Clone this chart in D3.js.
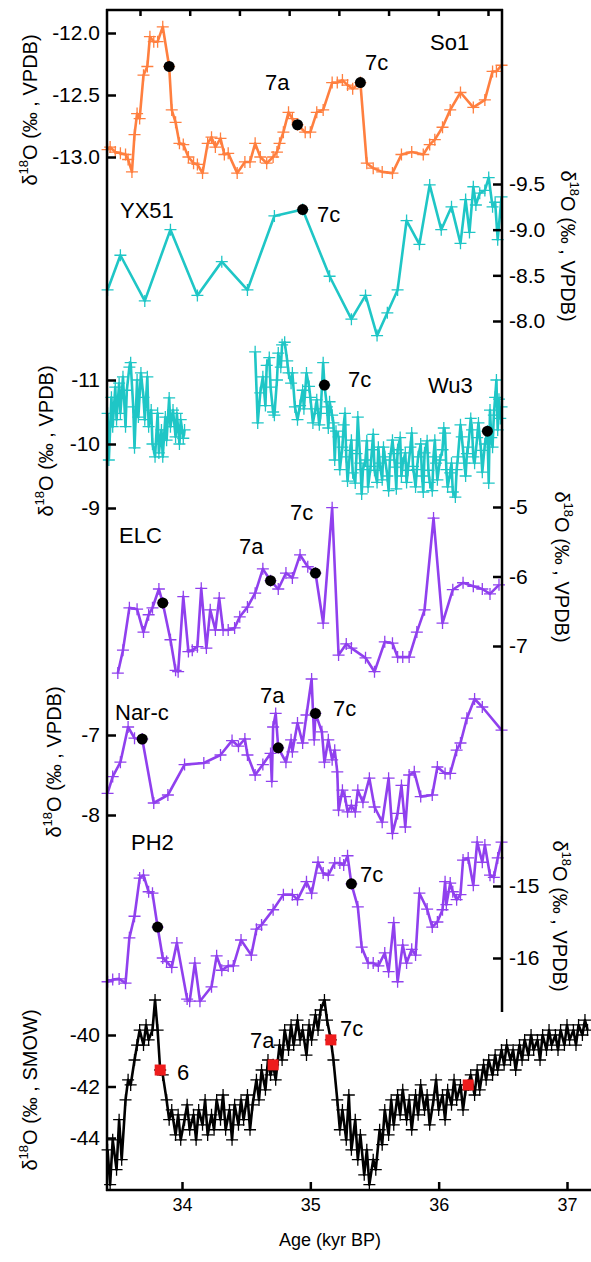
<!DOCTYPE html>
<html><head><meta charset="utf-8">
<script src="https://cdn.jsdelivr.net/npm/d3@7"></script>
<style>body{margin:0;background:#fff} text{font-family:"Liberation Sans",Arial,sans-serif;}</style>
</head><body><svg width="591" height="1262"></svg>
<script>
// [age kyr BP, d18O]
const so1 = [[33.42,-12.94],[33.44,-12.92],[33.48,-12.96],[33.52,-12.97],[33.56,-12.98],[33.58,-13.02],[33.61,-13.12],[33.63,-12.82],[33.65,-12.65],[33.67,-12.69],[33.70,-12.34],[33.73,-12.27],[33.75,-12.03],[33.78,-12.07],[33.81,-12.07],[33.85,-11.95],[33.90,-12.27],[33.92,-12.62],[33.95,-12.72],[33.98,-12.89],[34.01,-12.9],[34.05,-13.0],[34.09,-13.05],[34.12,-13.06],[34.16,-13.13],[34.20,-12.89],[34.23,-12.84],[34.26,-12.92],[34.30,-12.85],[34.33,-12.98],[34.36,-12.97],[34.43,-13.13],[34.49,-13.04],[34.53,-13.04],[34.57,-12.89],[34.61,-13.0],[34.66,-13.05],[34.71,-13.0],[34.74,-12.96],[34.76,-12.89],[34.79,-12.8],[34.83,-12.64],[34.86,-12.69],[34.90,-12.74],[34.96,-12.8],[35.00,-12.8],[35.05,-12.64],[35.10,-12.62],[35.17,-12.4],[35.21,-12.4],[35.25,-12.38],[35.29,-12.42],[35.33,-12.45],[35.39,-12.40],[35.44,-13.05],[35.49,-13.09],[35.56,-13.12],[35.64,-13.13],[35.71,-12.98],[35.79,-12.96],[35.88,-12.98],[35.93,-12.9],[35.97,-12.86],[36.03,-12.76],[36.09,-12.62],[36.17,-12.48],[36.27,-12.6],[36.36,-12.54],[36.42,-12.31],[36.45,-12.31],[36.49,-12.26]];
const so1Dots = [[33.90,-12.27],[34.90,-12.74],[35.39,-12.40]];

const yx51 = [[33.42,-8.34],[33.52,-8.72],[33.71,-8.22],[33.91,-9.0],[34.12,-8.28],[34.31,-8.65],[34.51,-8.34],[34.72,-9.15],[34.94,-9.22],[35.15,-8.49],[35.32,-8.02],[35.43,-8.28],[35.52,-7.84],[35.60,-8.09],[35.68,-8.34],[35.75,-9.1],[35.85,-8.84],[35.93,-9.49],[36.02,-9.0],[36.10,-9.25],[36.17,-8.85],[36.21,-9.33],[36.24,-8.97],[36.27,-9.47],[36.29,-9.27],[36.32,-9.4],[36.36,-9.43],[36.39,-9.57],[36.42,-9.25],[36.44,-9.3],[36.46,-8.89],[36.49,-9.36]];
const yx51Dots = [[34.94,-9.22]];

const wu3a = [[33.42,-10.48],[33.43,-9.75],[33.45,-10.73],[33.46,-10.27],[33.48,-10.89],[33.49,-10.38],[33.51,-10.95],[33.52,-10.48],[33.54,-11.05],[33.56,-10.27],[33.57,-10.84],[33.59,-11.2],[33.60,-11.27],[33.62,-10.58],[33.63,-9.94],[33.65,-11.0],[33.66,-10.42],[33.68,-11.11],[33.70,-10.73],[33.71,-10.38],[33.73,-11.05],[33.74,-10.27],[33.76,-10.53],[33.77,-10.0],[33.79,-9.8],[33.81,-10.48],[33.82,-9.86],[33.84,-10.22],[33.85,-9.8],[33.87,-10.42],[33.88,-10.06],[33.90,-10.72],[33.91,-10.27],[33.93,-10.53],[33.95,-10.11],[33.96,-10.48],[33.98,-10.0],[33.99,-10.38],[34.01,-10.09],[34.02,-10.22]];
const wu3b = [[34.57,-11.44],[34.59,-10.33],[34.61,-10.80],[34.63,-11.05],[34.65,-10.60],[34.66,-11.23],[34.68,-11.35],[34.69,-10.89],[34.71,-10.50],[34.72,-10.45],[34.74,-11.00],[34.75,-11.42],[34.77,-11.20],[34.78,-11.55],[34.80,-11.59],[34.82,-11.30],[34.83,-11.11],[34.85,-10.95],[34.86,-11.11],[34.88,-10.58],[34.90,-10.38],[34.92,-10.60],[34.94,-10.84],[34.95,-10.55],[34.97,-11.11],[34.99,-10.90],[35.00,-10.73],[35.02,-10.33],[35.04,-10.55],[35.05,-10.69],[35.07,-10.30],[35.08,-10.48],[35.10,-11.27],[35.11,-10.92],[35.13,-10.58],[35.14,-10.25],[35.15,-10.66],[35.17,-10.45],[35.18,-10.33],
  [35.19,-9.75],[35.20,-10.20],[35.22,-10.11],[35.23,-9.60],[35.25,-9.95],[35.26,-10.30],[35.27,-10.48],[35.28,-9.80],[35.29,-9.42],[35.31,-9.90],[35.32,-10.06],[35.33,-9.55],[35.35,-9.39],[35.36,-9.85],[35.37,-10.42],[35.39,-9.70],[35.40,-9.22],[35.41,-9.60],[35.43,-9.75],[35.44,-10.05],[35.45,-9.33],[35.47,-9.65],[35.48,-9.91],[35.49,-10.15],[35.50,-9.59],[35.52,-9.40],[35.53,-9.95],[35.54,-9.70],[35.56,-9.44],[35.57,-9.95],[35.58,-9.80],[35.60,-9.50],[35.61,-9.27],[35.62,-9.75],[35.64,-10.06],[35.65,-9.85],[35.66,-9.64],[35.67,-9.30],[35.68,-9.91],[35.70,-10.10],[35.71,-9.50],[35.72,-9.70],[35.74,-9.86],[35.75,-9.40],[35.76,-9.59],[35.78,-9.95],[35.79,-10.17],[35.80,-9.65],[35.82,-9.33],[35.83,-9.60],[35.84,-9.80],[35.86,-10.00],[35.87,-9.50],[35.88,-9.25],[35.89,-9.86],[35.91,-10.05],[35.92,-9.59],[35.93,-9.40],[35.95,-9.27],[35.96,-9.80],[35.97,-10.06],[35.98,-9.70],[35.99,-9.44],[36.01,-9.75],[36.03,-9.91],[36.04,-10.25],[36.05,-10.17],[36.06,-9.60],[36.07,-9.33],[36.09,-9.55],[36.10,-9.70],[36.11,-9.25],[36.13,-9.17],[36.14,-9.60],[36.15,-9.80],[36.17,-10.30],[36.18,-10.11],[36.20,-9.70],[36.21,-9.50],[36.22,-9.85],[36.23,-9.95],[36.25,-10.40],[36.26,-10.22],[36.27,-9.80],[36.28,-9.70],[36.30,-10.10],[36.31,-10.33],[36.33,-9.90],[36.34,-9.56],[36.36,-10.00],[36.38,-10.20],[36.39,-9.39],[36.40,-10.53],[36.41,-10.10],[36.42,-9.95],[36.43,-10.45],[36.44,-10.73],[36.45,-11.00],[36.46,-10.22],[36.47,-10.70],[36.48,-10.40],[36.49,-10.58]];
const wu3Dots = [[35.11,-10.92],[36.38,-10.2]];

const elc = [[33.50,-7.39],[33.54,-7.06],[33.59,-6.45],[33.65,-6.47],[33.70,-6.8],[33.74,-6.55],[33.77,-6.45],[33.82,-6.18],[33.85,-6.38],[33.91,-6.91],[33.95,-7.35],[33.97,-7.37],[34.01,-6.29],[34.05,-7.08],[34.08,-7.06],[34.12,-7.01],[34.15,-6.17],[34.19,-7.03],[34.22,-6.48],[34.26,-6.77],[34.29,-6.31],[34.32,-6.77],[34.36,-6.77],[34.41,-6.74],[34.45,-6.58],[34.51,-6.44],[34.57,-6.24],[34.63,-5.89],[34.69,-6.06],[34.75,-6.18],[34.81,-5.95],[34.86,-6.02],[34.92,-5.69],[34.98,-5.86],[35.04,-5.95],[35.10,-6.67],[35.17,-5.01],[35.22,-7.13],[35.28,-6.97],[35.32,-7.03],[35.43,-7.17],[35.50,-7.37],[35.58,-6.94],[35.64,-6.96],[35.68,-7.16],[35.72,-7.16],[35.77,-7.16],[35.83,-6.8],[35.89,-6.48],[35.96,-5.16],[36.03,-6.67],[36.11,-6.19],[36.19,-6.09],[36.27,-6.14],[36.34,-6.18],[36.40,-6.25],[36.47,-6.12]];
const elcDots = [[33.85,-6.38],[34.69,-6.06],[35.04,-5.95]];

const narc = [[33.42,-7.73],[33.46,-7.52],[33.52,-7.34],[33.58,-6.9],[33.63,-7.04],[33.69,-7.05],[33.78,-7.85],[33.89,-7.75],[34.02,-7.37],[34.17,-7.35],[34.30,-7.25],[34.39,-7.07],[34.44,-7.14],[34.49,-7.05],[34.51,-7.25],[34.57,-7.5],[34.63,-7.37],[34.69,-7.23],[34.70,-7.58],[34.71,-6.9],[34.73,-6.73],[34.75,-7.16],[34.81,-7.34],[34.85,-7.06],[34.86,-7.21],[34.90,-6.85],[34.94,-7.1],[34.97,-6.75],[35.01,-6.3],[35.03,-7.06],[35.04,-6.73],[35.09,-6.96],[35.11,-7.34],[35.14,-7.06],[35.17,-7.31],[35.19,-7.19],[35.21,-7.46],[35.22,-7.94],[35.25,-7.69],[35.27,-7.77],[35.29,-7.96],[35.32,-7.88],[35.35,-7.96],[35.37,-7.69],[35.41,-7.84],[35.46,-7.54],[35.50,-7.9],[35.56,-8.09],[35.61,-7.54],[35.64,-8.23],[35.68,-7.98],[35.71,-7.63],[35.74,-8.15],[35.77,-7.5],[35.81,-7.46],[35.86,-7.77],[35.95,-7.75],[35.99,-7.4],[36.05,-7.48],[36.09,-7.48],[36.14,-7.19],[36.17,-7.1],[36.22,-6.79],[36.28,-6.55],[36.34,-6.65],[36.49,-6.94]];
const narcDots = [[33.69,-7.05],[34.75,-7.16],[35.04,-6.73]];

const ph2 = [[33.42,-16.33],[33.46,-16.3],[33.51,-16.29],[33.56,-16.35],[33.59,-15.72],[33.63,-15.42],[33.67,-14.89],[33.70,-14.85],[33.74,-15.08],[33.77,-15.1],[33.81,-15.57],[33.85,-16.0],[33.88,-16.05],[33.92,-16.13],[33.96,-15.79],[34.04,-16.57],[34.06,-16.6],[34.10,-16.07],[34.14,-16.6],[34.23,-16.4],[34.27,-15.97],[34.31,-16.17],[34.36,-16.11],[34.40,-16.11],[34.46,-15.75],[34.54,-15.96],[34.58,-15.6],[34.62,-15.54],[34.71,-15.33],[34.79,-15.12],[34.86,-15.12],[34.90,-15.19],[34.97,-14.94],[35.01,-15.1],[35.06,-14.67],[35.10,-14.82],[35.14,-14.85],[35.19,-14.68],[35.23,-14.68],[35.26,-14.71],[35.29,-14.58],[35.32,-14.97],[35.37,-15.29],[35.40,-15.85],[35.45,-16.07],[35.49,-16.07],[35.53,-16.11],[35.58,-15.93],[35.61,-16.19],[35.65,-15.51],[35.68,-16.33],[35.72,-15.82],[35.75,-16.07],[35.79,-15.88],[35.82,-15.96],[35.85,-15.1],[35.91,-15.32],[35.95,-15.57],[35.99,-15.5],[36.03,-15.33],[36.05,-14.94],[36.06,-15.26],[36.09,-14.96],[36.11,-15.08],[36.14,-15.19],[36.17,-15.12],[36.19,-14.64],[36.23,-14.61],[36.27,-14.99],[36.30,-14.39],[36.34,-14.67],[36.36,-14.43],[36.40,-14.85],[36.43,-14.88],[36.46,-14.61],[36.49,-14.39]];
const ph2Dots = [[33.81,-15.57],[35.32,-14.97]];

const ngrip = [[33.42,-44.46],[33.44,-45.81],[33.46,-44.07],[33.49,-45.23],[33.51,-43.29],[33.53,-44.84],[33.56,-42.52],[33.58,-41.74],[33.60,-41.94],[33.63,-40.97],[33.65,-40.39],[33.67,-39.81],[33.70,-40.39],[33.72,-39.61],[33.74,-40.19],[33.77,-39.81],[33.79,-38.64],[33.81,-39.81],[33.83,-41.36],[33.85,-41.55],[33.88,-42.52],[33.90,-43.29],[33.92,-42.91],[33.95,-43.88],[33.97,-43.1],[33.99,-44.07],[34.02,-43.29],[34.04,-42.71],[34.06,-43.68],[34.09,-43.1],[34.11,-44.07],[34.13,-42.91],[34.16,-43.49],[34.18,-42.52],[34.20,-43.88],[34.23,-43.1],[34.25,-43.68],[34.27,-42.52],[34.30,-43.29],[34.32,-42.33],[34.34,-43.68],[34.37,-42.91],[34.39,-44.07],[34.41,-42.71],[34.44,-43.49],[34.46,-42.52],[34.48,-43.29],[34.51,-42.33],[34.53,-43.68],[34.55,-42.71],[34.58,-41.74],[34.60,-42.52],[34.62,-41.36],[34.65,-42.13],[34.67,-40.97],[34.69,-41.55],[34.71,-41.16],[34.73,-41.74],[34.76,-40.39],[34.78,-40.97],[34.80,-39.81],[34.83,-40.58],[34.85,-39.61],[34.87,-40.39],[34.90,-39.42],[34.92,-40.19],[34.94,-39.81],[34.97,-40.78],[34.99,-39.61],[35.01,-40.19],[35.04,-39.22],[35.06,-39.81],[35.08,-39.03],[35.11,-38.64],[35.13,-39.42],[35.16,-40.19],[35.18,-40.97],[35.21,-42.52],[35.23,-43.68],[35.25,-42.91],[35.28,-44.07],[35.30,-42.33],[35.32,-44.46],[35.35,-43.29],[35.37,-44.84],[35.39,-43.88],[35.42,-45.43],[35.44,-44.46],[35.46,-45.81],[35.49,-44.84],[35.51,-45.23],[35.54,-43.68],[35.56,-44.26],[35.58,-42.91],[35.61,-43.88],[35.63,-42.52],[35.65,-43.49],[35.68,-42.33],[35.70,-43.1],[35.72,-42.13],[35.75,-43.29],[35.77,-42.52],[35.79,-43.68],[35.82,-42.33],[35.84,-43.1],[35.86,-41.94],[35.89,-42.91],[35.91,-42.33],[35.93,-43.49],[35.96,-42.52],[35.98,-41.74],[36.00,-42.91],[36.03,-42.33],[36.05,-43.29],[36.07,-42.13],[36.10,-42.71],[36.12,-41.74],[36.14,-42.52],[36.17,-41.94],[36.19,-42.91],[36.21,-42.13],[36.23,-41.94],[36.25,-41.55],[36.28,-42.33],[36.30,-41.36],[36.32,-42.13],[36.35,-41.16],[36.37,-41.74],[36.39,-40.97],[36.42,-41.55],[36.44,-40.78],[36.46,-41.36],[36.49,-40.58],[36.51,-41.16],[36.53,-40.39],[36.56,-40.97],[36.58,-40.58],[36.60,-41.36],[36.63,-40.39],[36.65,-40.97],[36.67,-40.19],[36.70,-40.78],[36.72,-40.0],[36.74,-40.58],[36.77,-40.19],[36.79,-40.97],[36.81,-40.0],[36.84,-40.58],[36.86,-39.81],[36.88,-40.39],[36.91,-40.0],[36.93,-40.58],[36.95,-39.81],[36.98,-40.39],[37.00,-39.61],[37.02,-40.19],[37.05,-39.81],[37.07,-40.39],[37.09,-39.61],[37.12,-40.0],[37.14,-39.42],[37.16,-39.81]];
const ngripSquares = [[33.83,-41.36],[34.71,-41.16],[35.16,-40.19],[36.23,-41.94]];

const ageTicks = [34, 35, 36, 37];

const svg = d3.select("svg");
const x = d3.scaleLinear().domain([34, 37]).range([182, 567]);
const fmt1 = v => v.toFixed(1);
const fmt0 = v => v.toFixed(0);

const panels = [
  {data: so1, dots: so1Dots, color: "#ff7f3f", dom: [-12, -13], rng: [33, 157], side: "left", ticks: [-12, -12.5, -13], fmt: fmt1, unit: "VPDB", lab: [37, 110]},
  {data: yx51, dots: yx51Dots, color: "#1fc6c6", dom: [-9.5, -8], rng: [184, 321], side: "right", ticks: [-9.5, -9, -8.5, -8], fmt: fmt1, unit: "VPDB", lab: [561, 246]},
  {data: wu3a, dots: [], color: "#1fc6c6", dom: [-11, -9], rng: [380, 508], side: "left", ticks: [-11, -10, -9], fmt: fmt0, unit: "VPDB", lab: [53, 441]},
  {data: wu3b, dots: wu3Dots, color: "#1fc6c6", dom: [-11, -9], rng: [380, 508], side: null},
  {data: elc, dots: elcDots, color: "#9040ee", dom: [-5, -7], rng: [507, 646], side: "right", ticks: [-5, -6, -7], fmt: fmt0, unit: "VPDB", lab: [555, 567]},
  {data: narc, dots: narcDots, color: "#9040ee", dom: [-7, -8], rng: [735, 815], side: "left", ticks: [-7, -8], fmt: fmt0, unit: "VPDB", lab: [61, 762]},
  {data: ph2, dots: ph2Dots, color: "#9040ee", dom: [-15, -16], rng: [886, 958], side: "right", ticks: [-15, -16], fmt: fmt0, unit: "VPDB", lab: [553, 916]},
  {data: ngrip, dots: [], color: "#000", dom: [-40, -44], rng: [1035, 1138], side: "left", ticks: [-40, -42, -44], fmt: fmt0, unit: "SMOW", lab: [37, 1090]}
];

function ylabel(x0, y0, unit, side) {
  const t = svg.append("text")
    .attr("transform", `translate(${x0},${y0}) rotate(${side === "left" ? -90 : 90})`)
    .attr("text-anchor", "middle").attr("font-size", 20);
  t.append("tspan").text("δ");
  t.append("tspan").attr("font-size", 13).attr("dy", -9).text("18");
  t.append("tspan").attr("dy", 9).text(`O (‰ , ${unit})`);
}

panels.forEach(p => {
  const y = d3.scaleLinear().domain(p.dom).range(p.rng);
  const pts = p.data.map(d => [x(d[0]), y(d[1])]);
  svg.append("path").attr("d", d3.line()(pts)).attr("fill", "none")
    .attr("stroke", p.color).attr("stroke-width", 2.6).attr("stroke-linejoin", "round");
  svg.append("g").selectAll("path").data(pts).join("path")
    .attr("d", d => `M${d[0] - 6},${d[1]}h12M${d[0]},${d[1] - 6}v12`)
    .attr("stroke", p.color).attr("stroke-width", 1.3);
  svg.append("g").selectAll("circle").data(p.dots).join("circle")
    .attr("cx", d => x(d[0])).attr("cy", d => y(d[1])).attr("r", 5.5).attr("fill", "#000");
  if (!p.side) return;
  const ax = p.side === "left" ? d3.axisLeft(y) : d3.axisRight(y);
  svg.append("g").attr("transform", `translate(${p.side === "left" ? 107 : 502},0)`)
    .call(ax.tickValues(p.ticks).tickFormat(p.fmt).tickSize(-9).tickPadding(7))
    .call(g => g.select(".domain").remove())
    .call(g => g.selectAll("line").attr("stroke-width", 2.5))
    .call(g => g.selectAll("text").attr("font-size", 21).attr("font-family", "Liberation Sans, Arial, sans-serif"));
  ylabel(p.lab[0], p.lab[1], p.unit, p.side);
});

// red squares on the ice-core record
const yNg = d3.scaleLinear().domain([-40, -44]).range([1035, 1138]);
svg.append("g").selectAll("rect").data(ngripSquares).join("rect")
  .attr("x", d => x(d[0]) - 5.5).attr("y", d => yNg(d[1]) - 5.5)
  .attr("width", 11).attr("height", 11).attr("fill", "#ee1c1c");

// frame
svg.append("line").attr("x1", 107).attr("x2", 107).attr("y1", 9).attr("y2", 1191).attr("stroke", "#000").attr("stroke-width", 2.5);
svg.append("line").attr("x1", 106).attr("x2", 503).attr("y1", 10).attr("y2", 10).attr("stroke", "#000").attr("stroke-width", 2.5);
svg.append("line").attr("x1", 502).attr("x2", 502).attr("y1", 9).attr("y2", 1012).attr("stroke", "#000").attr("stroke-width", 2.5);
const xTop = d3.scaleLinear().domain([0, 7]).range([140, 488]);
svg.append("g").attr("transform", "translate(0,10)")
  .call(d3.axisBottom(xTop).ticks(8).tickSize(6).tickFormat(""))
  .call(g => g.select(".domain").remove())
  .call(g => g.selectAll("line").attr("stroke-width", 2.5));

// age axis
svg.append("g").attr("transform", "translate(0,1190)")
  .call(d3.axisBottom(x).tickValues(ageTicks).tickFormat(fmt0).tickSize(-8).tickPadding(8))
  .call(g => g.select(".domain").attr("d", "M106,0H591").attr("stroke-width", 2.5))
  .call(g => g.selectAll("line").attr("stroke-width", 2.5))
  .call(g => g.selectAll("text").attr("font-size", 18).attr("font-family", "Liberation Sans, Arial, sans-serif"));
svg.append("text").attr("x", 330).attr("y", 1246).attr("text-anchor", "middle").attr("font-size", 18).text("Age (kyr BP)");

// record names and event labels
const lab = (s, x0, y0) => svg.append("text").attr("x", x0).attr("y", y0).attr("font-size", 22).text(s);
lab("So1", 430, 50); lab("7a", 265, 90); lab("7c", 365, 70);
lab("YX51", 120, 218); lab("7c", 317, 222);
lab("7c", 348, 387); lab("Wu3", 428, 393);
lab("ELC", 119, 543); lab("7a", 239, 554); lab("7c", 290, 520);
lab("Nar-c", 115, 720); lab("7a", 260, 703); lab("7c", 333, 716);
lab("PH2", 131, 850); lab("7c", 360, 882);
lab("6", 177, 1080); lab("7a", 250, 1048); lab("7c", 340, 1036);
</script></body></html>
